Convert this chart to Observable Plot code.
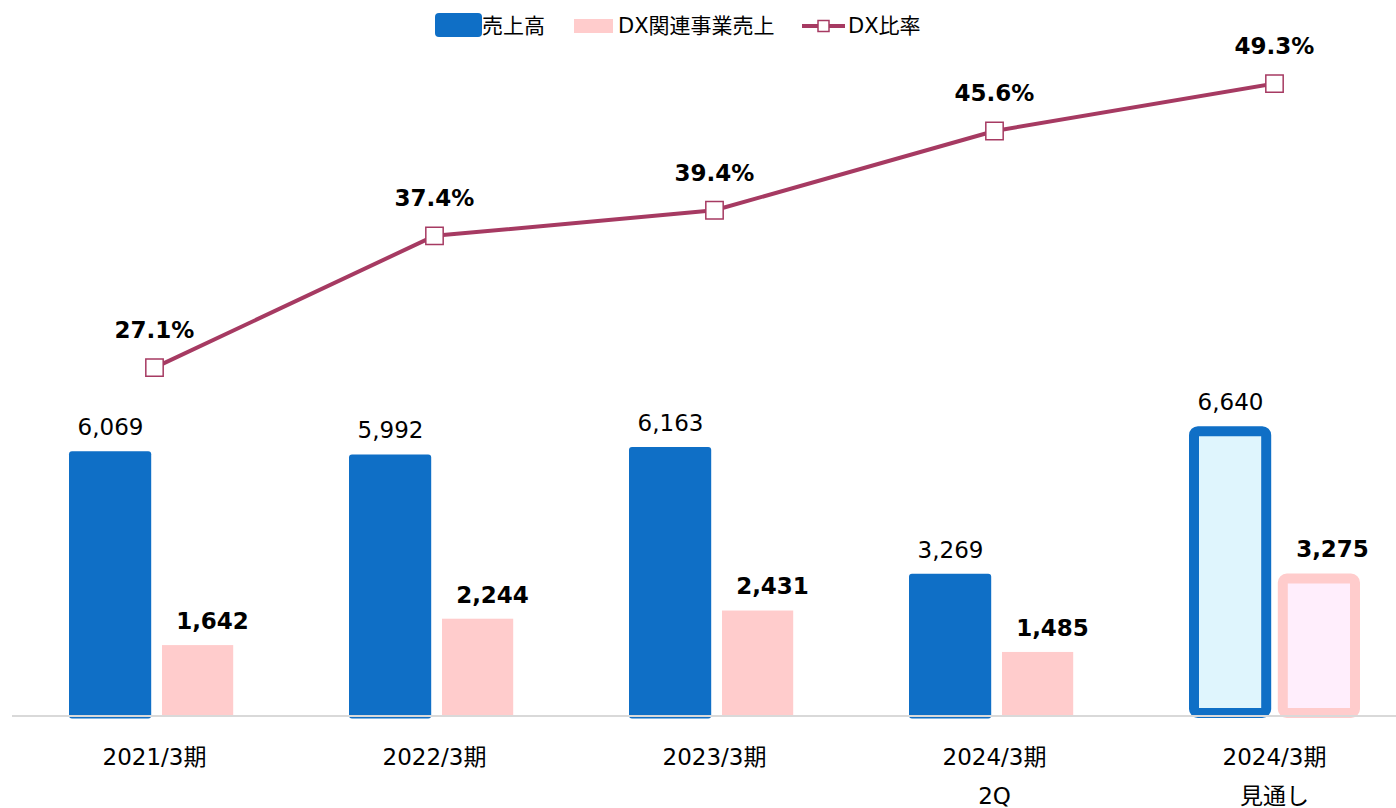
<!DOCTYPE html>
<html>
<head>
<meta charset="utf-8">
<script src="https://cdn.jsdelivr.net/npm/d3@7"></script>
<script src="https://cdn.jsdelivr.net/npm/@observablehq/plot@0.6"></script>
<style>
  html, body { margin: 0; padding: 0; background: #ffffff; }
  #wrap { position: relative; width: 1396px; height: 808px; overflow: hidden; font-family: "DejaVu Sans", "Noto Sans CJK JP", sans-serif; }
  #legend { position: absolute; top: 0; left: 0; width: 1396px; height: 44px; font-size: 21px; color: #000; }
  #legend .it { position: absolute; }
  #legend .tx { position: absolute; top: 13px; line-height: 26px; white-space: nowrap; }
  #bars, #line { position: absolute; top: 44px; left: 0; }
  svg { overflow: visible; }
</style>
</head>
<body>
<div id="wrap">
  <div id="legend"></div>
  <div id="bars"></div>
  <div id="line"></div>
</div>
<script>
// ---- data ----
const categories = ["2021/3期", "2022/3期", "2023/3期", "2024/3期\n2Q", "2024/3期\n見通し"];
const sales = [6069, 5992, 6163, 3269, 6640];          // 売上高
const dxSales = [1642, 2244, 2431, 1485, 3275];        // DX関連事業売上
const dxRatio = [27.1, 37.4, 39.4, 45.6, 49.3];        // DX比率 (%)
const isForecast = [false, false, false, false, true]; // 見通し
const seriesLabels = ["売上高", "DX関連事業売上", "DX比率"];

// ---- styles ----
const BLUE = "#0F6FC6";
const PINK = "#FFCCCC";
const BLUE_LIGHT = "#DFF5FD";
const PINK_LIGHT = "#FFEEFC";
const LINE = "#A63A62";
const FONT = "'DejaVu Sans', 'Noto Sans CJK JP', sans-serif";

const rows = categories.map((c, i) => ({cat: c, sales: sales[i], dx: dxSales[i], ratio: dxRatio[i], forecast: isForecast[i]}));
const actual = rows.filter(d => !d.forecast);
const forecast = rows.filter(d => d.forecast);
const fmt = d3.format(",");

const W = 1396, H = 764;
const base = 673;
const xScale = {type: "band", domain: categories, range: [12, 1416], padding: 0, axis: null};
const svgStyle = {fontFamily: FONT, fontSize: "23px", background: "none", overflow: "visible", color: "#000"};

// ---- bars ----
const bars = Plot.plot({
  width: W, height: H,
  marginLeft: 12, marginRight: 0, marginTop: 0, marginBottom: H - base,
  x: xScale,
  y: {domain: [0, 15000], range: [base, base - 15000 * 0.0438], axis: null},
  style: svgStyle,
  marks: [
    Plot.barY(actual, {x: "cat", y: "sales", fill: BLUE, insetLeft: 55, insetRight: 142.8, rx: 3, insetBottom: -1.5}),
    Plot.barY(actual, {x: "cat", y: "dx", fill: PINK, insetLeft: 148, insetRight: 60.8}),
    Plot.barY(forecast, {x: "cat", y: "sales", fill: BLUE_LIGHT, stroke: BLUE, strokeWidth: 10, insetLeft: 60, insetRight: 147.8, insetTop: 5, insetBottom: 4, rx: 4}),
    Plot.barY(forecast, {x: "cat", y: "dx", fill: PINK_LIGHT, stroke: PINK, strokeWidth: 10, insetLeft: 148.8, insetRight: 59, insetTop: 5, insetBottom: 4, rx: 4}),
    Plot.ruleY([0], {stroke: "#D9D9D9", strokeWidth: 2, dy: -1.5}),
    Plot.text(rows, {x: "cat", y: "sales", text: d => fmt(d.sales), dx: -44, dy: -24, lineAnchor: "middle", fill: "#000"}),
    Plot.text(rows, {x: "cat", y: "dx", text: d => fmt(d.dx), dx: 58, dy: -24, lineAnchor: "middle", fontWeight: "bold", fill: "#000"}),
    Plot.text(categories, {x: d => d, text: d => d, frameAnchor: "bottom", lineAnchor: "top", dy: 19, fontSize: 23, lineHeight: 1.72, fill: "#000"})
  ]
});
document.getElementById("bars").appendChild(bars);

// ---- ratio line (secondary scale) ----
const lineBase = 669.7;
const line = Plot.plot({
  width: W, height: H,
  marginLeft: 12, marginRight: 0, marginTop: 0, marginBottom: H - base,
  x: xScale,
  y: {domain: [0, 50], range: [lineBase, lineBase - 50 * 12.79], axis: null},
  style: svgStyle,
  marks: [
    Plot.line(rows, {x: "cat", y: "ratio", stroke: LINE, strokeWidth: 4}),
    Plot.dot(rows, {x: "cat", y: "ratio", symbol: "square", r: 9.8, fill: "white", stroke: LINE, strokeWidth: 1.5}),
    Plot.text(rows, {x: "cat", y: "ratio", text: d => d.ratio.toFixed(1) + "%", dy: -37, lineAnchor: "middle", fontWeight: "bold", fill: "#000"})
  ]
});
document.getElementById("line").appendChild(line);

// ---- legend ----
const legend = document.getElementById("legend");
legend.innerHTML = `
  <div class="it" style="left:435px;top:13px;width:47px;height:24px;background:${BLUE};border-radius:4px"></div>
  <div class="tx" style="left:482px">${seriesLabels[0]}</div>
  <div class="it" style="left:574px;top:19px;width:39px;height:14px;background:${PINK}"></div>
  <div class="tx" style="left:618px">${seriesLabels[1]}</div>
  <svg class="it" style="left:802px;top:15px" width="44" height="22">
    <line x1="0" y1="11" x2="43" y2="11" stroke="${LINE}" stroke-width="4"/>
    <rect x="16" y="5.5" width="11" height="11" fill="white" stroke="${LINE}" stroke-width="1.5"/>
  </svg>
  <div class="tx" style="left:848px">${seriesLabels[2]}</div>
`;
</script>
</body>
</html>
